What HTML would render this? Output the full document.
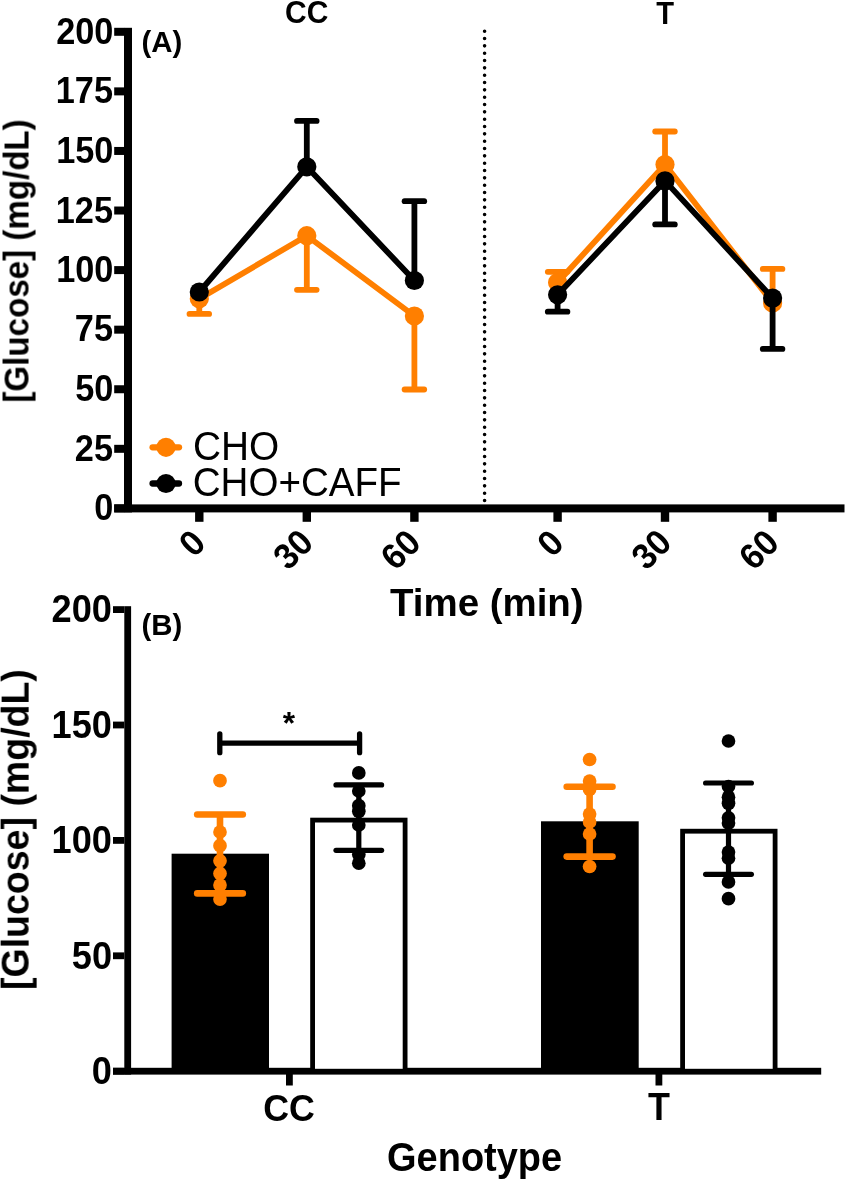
<!DOCTYPE html>
<html><head><meta charset="utf-8"><style>
html,body{margin:0;padding:0;background:#fff;}
svg{display:block;}
text{font-family:"Liberation Sans",sans-serif;font-size:100px;}
.t{filter:grayscale(1);}
</style></head><body>
<svg width="845" height="1180" viewBox="0 0 845 1180">
<rect width="845" height="1180" fill="#fff"/>
<rect x="124.00" y="27.80" width="8.00" height="484.60" fill="#000"/>
<rect x="114.20" y="504.40" width="10.00" height="8.00" fill="#000"/>
<rect x="114.20" y="444.82" width="10.00" height="8.00" fill="#000"/>
<rect x="114.20" y="385.25" width="10.00" height="8.00" fill="#000"/>
<rect x="114.20" y="325.67" width="10.00" height="8.00" fill="#000"/>
<rect x="114.20" y="266.10" width="10.00" height="8.00" fill="#000"/>
<rect x="114.20" y="206.52" width="10.00" height="8.00" fill="#000"/>
<rect x="114.20" y="146.95" width="10.00" height="8.00" fill="#000"/>
<rect x="114.20" y="87.38" width="10.00" height="8.00" fill="#000"/>
<rect x="114.20" y="27.80" width="10.00" height="8.00" fill="#000"/>
<rect x="114.20" y="504.40" width="730.30" height="8.00" fill="#000"/>
<rect x="195.10" y="512.00" width="8.40" height="9.80" fill="#000"/>
<rect x="302.60" y="512.00" width="8.40" height="9.80" fill="#000"/>
<rect x="410.20" y="512.00" width="8.40" height="9.80" fill="#000"/>
<rect x="553.40" y="512.00" width="8.40" height="9.80" fill="#000"/>
<rect x="660.80" y="512.00" width="8.40" height="9.80" fill="#000"/>
<rect x="768.40" y="512.00" width="8.40" height="9.80" fill="#000"/>
<line x1="484.6" y1="31.2" x2="484.6" y2="502" stroke="#000" stroke-width="3.6" stroke-linecap="round" stroke-dasharray="0 7.333"/>
<line x1="199.3" y1="298.8" x2="199.3" y2="313.9" stroke="#FF7F00" stroke-width="5.8" stroke-linecap="butt"/>
<line x1="189.5" y1="313.9" x2="209.10000000000002" y2="313.9" stroke="#FF7F00" stroke-width="5.8" stroke-linecap="round"/>
<line x1="306.8" y1="235.7" x2="306.8" y2="289.8" stroke="#FF7F00" stroke-width="5.8" stroke-linecap="butt"/>
<line x1="297.0" y1="289.8" x2="316.6" y2="289.8" stroke="#FF7F00" stroke-width="5.8" stroke-linecap="round"/>
<line x1="414.4" y1="316.0" x2="414.4" y2="389.5" stroke="#FF7F00" stroke-width="5.8" stroke-linecap="butt"/>
<line x1="404.59999999999997" y1="389.5" x2="424.2" y2="389.5" stroke="#FF7F00" stroke-width="5.8" stroke-linecap="round"/>
<polyline points="199.3,298.8 306.8,235.7 414.4,316.0" fill="none" stroke="#FF7F00" stroke-width="5.8" stroke-linejoin="round"/>
<circle cx="199.3" cy="298.8" r="9.6" fill="#FF7F00"/>
<circle cx="306.8" cy="235.7" r="9.6" fill="#FF7F00"/>
<circle cx="414.4" cy="316.0" r="9.6" fill="#FF7F00"/>
<line x1="306.8" y1="166.8" x2="306.8" y2="120.9" stroke="#000" stroke-width="5.8" stroke-linecap="butt"/>
<line x1="297.0" y1="120.9" x2="316.6" y2="120.9" stroke="#000" stroke-width="5.8" stroke-linecap="round"/>
<line x1="414.4" y1="280.5" x2="414.4" y2="201.2" stroke="#000" stroke-width="5.8" stroke-linecap="butt"/>
<line x1="404.59999999999997" y1="201.2" x2="424.2" y2="201.2" stroke="#000" stroke-width="5.8" stroke-linecap="round"/>
<polyline points="199.3,292.0 306.8,166.8 414.4,280.5" fill="none" stroke="#000" stroke-width="5.8" stroke-linejoin="round"/>
<circle cx="199.3" cy="292.0" r="9.6" fill="#000"/>
<circle cx="306.8" cy="166.8" r="9.6" fill="#000"/>
<circle cx="414.4" cy="280.5" r="9.6" fill="#000"/>
<line x1="557.6" y1="282.5" x2="557.6" y2="271.8" stroke="#FF7F00" stroke-width="5.8" stroke-linecap="butt"/>
<line x1="547.8000000000001" y1="271.8" x2="567.4" y2="271.8" stroke="#FF7F00" stroke-width="5.8" stroke-linecap="round"/>
<line x1="665.0" y1="164.5" x2="665.0" y2="131.5" stroke="#FF7F00" stroke-width="5.8" stroke-linecap="butt"/>
<line x1="655.2" y1="131.5" x2="674.8" y2="131.5" stroke="#FF7F00" stroke-width="5.8" stroke-linecap="round"/>
<line x1="772.6" y1="302.9" x2="772.6" y2="268.9" stroke="#FF7F00" stroke-width="5.8" stroke-linecap="butt"/>
<line x1="762.8000000000001" y1="268.9" x2="782.4" y2="268.9" stroke="#FF7F00" stroke-width="5.8" stroke-linecap="round"/>
<polyline points="557.6,282.5 665.0,164.5 772.6,302.9" fill="none" stroke="#FF7F00" stroke-width="5.8" stroke-linejoin="round"/>
<circle cx="557.6" cy="282.5" r="9.6" fill="#FF7F00"/>
<circle cx="665.0" cy="164.5" r="9.6" fill="#FF7F00"/>
<circle cx="772.6" cy="302.9" r="9.6" fill="#FF7F00"/>
<line x1="557.6" y1="294.8" x2="557.6" y2="311.7" stroke="#000" stroke-width="5.8" stroke-linecap="butt"/>
<line x1="547.8000000000001" y1="311.7" x2="567.4" y2="311.7" stroke="#000" stroke-width="5.8" stroke-linecap="round"/>
<line x1="665.0" y1="180.9" x2="665.0" y2="224.4" stroke="#000" stroke-width="5.8" stroke-linecap="butt"/>
<line x1="655.2" y1="224.4" x2="674.8" y2="224.4" stroke="#000" stroke-width="5.8" stroke-linecap="round"/>
<line x1="772.6" y1="298.1" x2="772.6" y2="348.9" stroke="#000" stroke-width="5.8" stroke-linecap="butt"/>
<line x1="762.8000000000001" y1="348.9" x2="782.4" y2="348.9" stroke="#000" stroke-width="5.8" stroke-linecap="round"/>
<polyline points="557.6,294.8 665.0,180.9 772.6,298.1" fill="none" stroke="#000" stroke-width="5.8" stroke-linejoin="round"/>
<circle cx="557.6" cy="294.8" r="9.6" fill="#000"/>
<circle cx="665.0" cy="180.9" r="9.6" fill="#000"/>
<circle cx="772.6" cy="298.1" r="9.6" fill="#000"/>
<line x1="152.6" y1="447.3" x2="179" y2="447.3" stroke="#FF7F00" stroke-width="6.3" stroke-linecap="round"/>
<circle cx="166" cy="447.3" r="9.6" fill="#FF7F00"/>
<line x1="152.6" y1="483.5" x2="179" y2="483.5" stroke="#000" stroke-width="6.3" stroke-linecap="round"/>
<circle cx="166" cy="483.5" r="9.6" fill="#000"/>
<rect x="124.30" y="606.20" width="6.80" height="468.40" fill="#000"/>
<rect x="113.00" y="1067.80" width="11.30" height="6.80" fill="#000"/>
<rect x="113.00" y="952.40" width="11.30" height="6.80" fill="#000"/>
<rect x="113.00" y="837.00" width="11.30" height="6.80" fill="#000"/>
<rect x="113.00" y="721.60" width="11.30" height="6.80" fill="#000"/>
<rect x="113.00" y="606.20" width="11.30" height="6.80" fill="#000"/>
<rect x="113.00" y="1067.80" width="708.20" height="6.80" fill="#000"/>
<rect x="286.00" y="1074.00" width="6.80" height="11.50" fill="#000"/>
<rect x="655.50" y="1074.00" width="6.80" height="11.50" fill="#000"/>
<rect x="171.60" y="853.70" width="97.40" height="217.50" fill="#000"/>
<rect x="541.00" y="821.30" width="97.70" height="249.90" fill="#000"/>
<rect x="312.60" y="820.10" width="92.50" height="251.10" fill="#fff" stroke="#000" stroke-width="4.8"/>
<rect x="682.60" y="831.20" width="92.50" height="240.00" fill="#fff" stroke="#000" stroke-width="4.8"/>
<line x1="220" y1="814.5" x2="220" y2="893.4" stroke="#FF7F00" stroke-width="6.6" stroke-linecap="butt"/>
<circle cx="220" cy="780.7" r="6.85" fill="#FF7F00"/>
<circle cx="220" cy="832" r="6.85" fill="#FF7F00"/>
<circle cx="220" cy="845.7" r="6.85" fill="#FF7F00"/>
<circle cx="220" cy="860.8" r="6.85" fill="#FF7F00"/>
<circle cx="220" cy="873.5" r="6.85" fill="#FF7F00"/>
<circle cx="220" cy="885.1" r="6.85" fill="#FF7F00"/>
<circle cx="220" cy="899.1" r="6.85" fill="#FF7F00"/>
<line x1="197.2" y1="814.5" x2="242.8" y2="814.5" stroke="#FF7F00" stroke-width="6.6" stroke-linecap="round"/>
<line x1="197.2" y1="893.4" x2="242.8" y2="893.4" stroke="#FF7F00" stroke-width="6.6" stroke-linecap="round"/>
<line x1="358.8" y1="784.9" x2="358.8" y2="850.3" stroke="#000" stroke-width="5.2" stroke-linecap="butt"/>
<circle cx="358.8" cy="772.9" r="6.85" fill="#000"/>
<circle cx="358.8" cy="791" r="6.85" fill="#000"/>
<circle cx="358.8" cy="805.7" r="6.85" fill="#000"/>
<circle cx="358.8" cy="811.3" r="6.85" fill="#000"/>
<circle cx="358.8" cy="825" r="6.85" fill="#000"/>
<circle cx="358.8" cy="854.5" r="6.85" fill="#000"/>
<circle cx="358.8" cy="863.2" r="6.85" fill="#000"/>
<line x1="336.0" y1="784.9" x2="381.6" y2="784.9" stroke="#000" stroke-width="5.2" stroke-linecap="round"/>
<line x1="336.0" y1="850.3" x2="381.6" y2="850.3" stroke="#000" stroke-width="5.2" stroke-linecap="round"/>
<line x1="589.6" y1="786.7" x2="589.6" y2="856.6" stroke="#FF7F00" stroke-width="6.6" stroke-linecap="butt"/>
<circle cx="589.6" cy="759.5" r="6.85" fill="#FF7F00"/>
<circle cx="589.6" cy="781" r="6.85" fill="#FF7F00"/>
<circle cx="589.6" cy="789.5" r="6.85" fill="#FF7F00"/>
<circle cx="589.6" cy="814" r="6.85" fill="#FF7F00"/>
<circle cx="589.6" cy="822" r="6.85" fill="#FF7F00"/>
<circle cx="589.6" cy="834" r="6.85" fill="#FF7F00"/>
<circle cx="589.6" cy="866.5" r="6.85" fill="#FF7F00"/>
<line x1="566.7" y1="786.7" x2="612.5" y2="786.7" stroke="#FF7F00" stroke-width="6.6" stroke-linecap="round"/>
<line x1="566.7" y1="856.6" x2="612.5" y2="856.6" stroke="#FF7F00" stroke-width="6.6" stroke-linecap="round"/>
<line x1="728.5" y1="783" x2="728.5" y2="874.3" stroke="#000" stroke-width="5.2" stroke-linecap="butt"/>
<circle cx="728.5" cy="741" r="6.85" fill="#000"/>
<circle cx="728.5" cy="786.5" r="6.85" fill="#000"/>
<circle cx="728.5" cy="797.2" r="6.85" fill="#000"/>
<circle cx="728.5" cy="803.3" r="6.85" fill="#000"/>
<circle cx="728.5" cy="817.8" r="6.85" fill="#000"/>
<circle cx="728.5" cy="823.1" r="6.85" fill="#000"/>
<circle cx="728.5" cy="852.1" r="6.85" fill="#000"/>
<circle cx="728.5" cy="858.2" r="6.85" fill="#000"/>
<circle cx="728.5" cy="881.9" r="6.85" fill="#000"/>
<circle cx="728.5" cy="898.7" r="6.85" fill="#000"/>
<line x1="705.6" y1="783" x2="751.4" y2="783" stroke="#000" stroke-width="5.2" stroke-linecap="round"/>
<line x1="705.6" y1="874.3" x2="751.4" y2="874.3" stroke="#000" stroke-width="5.2" stroke-linecap="round"/>
<line x1="219.8" y1="733.8" x2="219.8" y2="752.7" stroke="#000" stroke-width="5.3" stroke-linecap="round"/>
<line x1="359.6" y1="733.8" x2="359.6" y2="752.7" stroke="#000" stroke-width="5.3" stroke-linecap="round"/>
<line x1="219.8" y1="743.1" x2="359.6" y2="743.1" stroke="#000" stroke-width="5.3" stroke-linecap="butt"/>
<g class="t"><text transform="matrix(0.38824,0,0,0.40141,193.06,460.20)" font-weight="normal" fill="#000">CHO</text>
<text transform="matrix(0.38555,0,0,0.39859,192.77,496.40)" font-weight="normal" fill="#000">CHO+CAFF</text>
<text transform="matrix(0.29982,0,0,0.31943,285.00,23.48)" font-weight="bold" fill="#000">CC</text>
<text transform="matrix(0.29153,0,0,0.31709,656.31,23.70)" font-weight="bold" fill="#000">T</text>
<text transform="matrix(0.29437,0,0,0.30134,141.53,51.85)" font-weight="bold" fill="#000">(A)</text>
<text transform="matrix(0.34300,0,0,0.36015,94.34,520.38)" font-weight="bold">0</text>
<text transform="matrix(0.34300,0,0,0.36015,74.87,460.81)" font-weight="bold">25</text>
<text transform="matrix(0.34300,0,0,0.36015,75.30,401.23)" font-weight="bold">50</text>
<text transform="matrix(0.34300,0,0,0.36015,74.87,341.48)" font-weight="bold">75</text>
<text transform="matrix(0.34300,0,0,0.36015,56.18,282.08)" font-weight="bold">100</text>
<text transform="matrix(0.34300,0,0,0.36015,55.75,222.51)" font-weight="bold">125</text>
<text transform="matrix(0.34300,0,0,0.36015,56.18,162.93)" font-weight="bold">150</text>
<text transform="matrix(0.34300,0,0,0.36015,55.75,103.18)" font-weight="bold">175</text>
<text transform="matrix(0.34300,0,0,0.36015,56.18,43.78)" font-weight="bold">200</text>
<text transform="matrix(0,-0.33136,0.34987,0,28.37,402.62)" font-weight="bold">[Glucose] (mg/dL)</text>
<text transform="matrix(0.24254,-0.24254,0.25466,0.25466,193.97,558.48)" font-weight="bold">0</text>
<text transform="matrix(0.24254,-0.24254,0.25466,0.25466,288.37,571.47)" font-weight="bold">30</text>
<text transform="matrix(0.24254,-0.24254,0.25466,0.25466,395.82,571.68)" font-weight="bold">60</text>
<text transform="matrix(0.24254,-0.24254,0.25466,0.25466,552.27,558.48)" font-weight="bold">0</text>
<text transform="matrix(0.24254,-0.24254,0.25466,0.25466,646.57,571.47)" font-weight="bold">30</text>
<text transform="matrix(0.24254,-0.24254,0.25466,0.25466,754.02,571.68)" font-weight="bold">60</text>
<text transform="matrix(0.38453,0,0,0.38923,390.02,616.42)" font-weight="bold" fill="#000">Time (min)</text>
<text transform="matrix(0.31688,0,0,0.31141,282.82,733.51)" font-weight="bold" fill="#000">*</text>
<text transform="matrix(0.29437,0,0,0.29812,141.53,635.41)" font-weight="bold" fill="#000">(B)</text>
<text transform="matrix(0.36200,0,0,0.38010,91.86,1084.07)" font-weight="bold">0</text>
<text transform="matrix(0.36200,0,0,0.38010,71.77,968.67)" font-weight="bold">50</text>
<text transform="matrix(0.36200,0,0,0.38010,51.58,853.27)" font-weight="bold">100</text>
<text transform="matrix(0.36200,0,0,0.38010,51.58,737.87)" font-weight="bold">150</text>
<text transform="matrix(0.36200,0,0,0.38010,51.58,622.47)" font-weight="bold">200</text>
<text transform="matrix(0,-0.37515,0.39360,0,28.84,989.96)" font-weight="bold">[Glucose] (mg/dL)</text>
<text transform="matrix(0.35789,0,0,0.37456,263.27,1121.03)" font-weight="bold" fill="#000">CC</text>
<text transform="matrix(0.35932,0,0,0.37964,648.04,1120.30)" font-weight="bold" fill="#000">T</text>
<text transform="matrix(0.37972,0,0,0.39779,387.08,1171.35)" font-weight="bold" fill="#000">Genotype</text></g>
</svg>
</body></html>
